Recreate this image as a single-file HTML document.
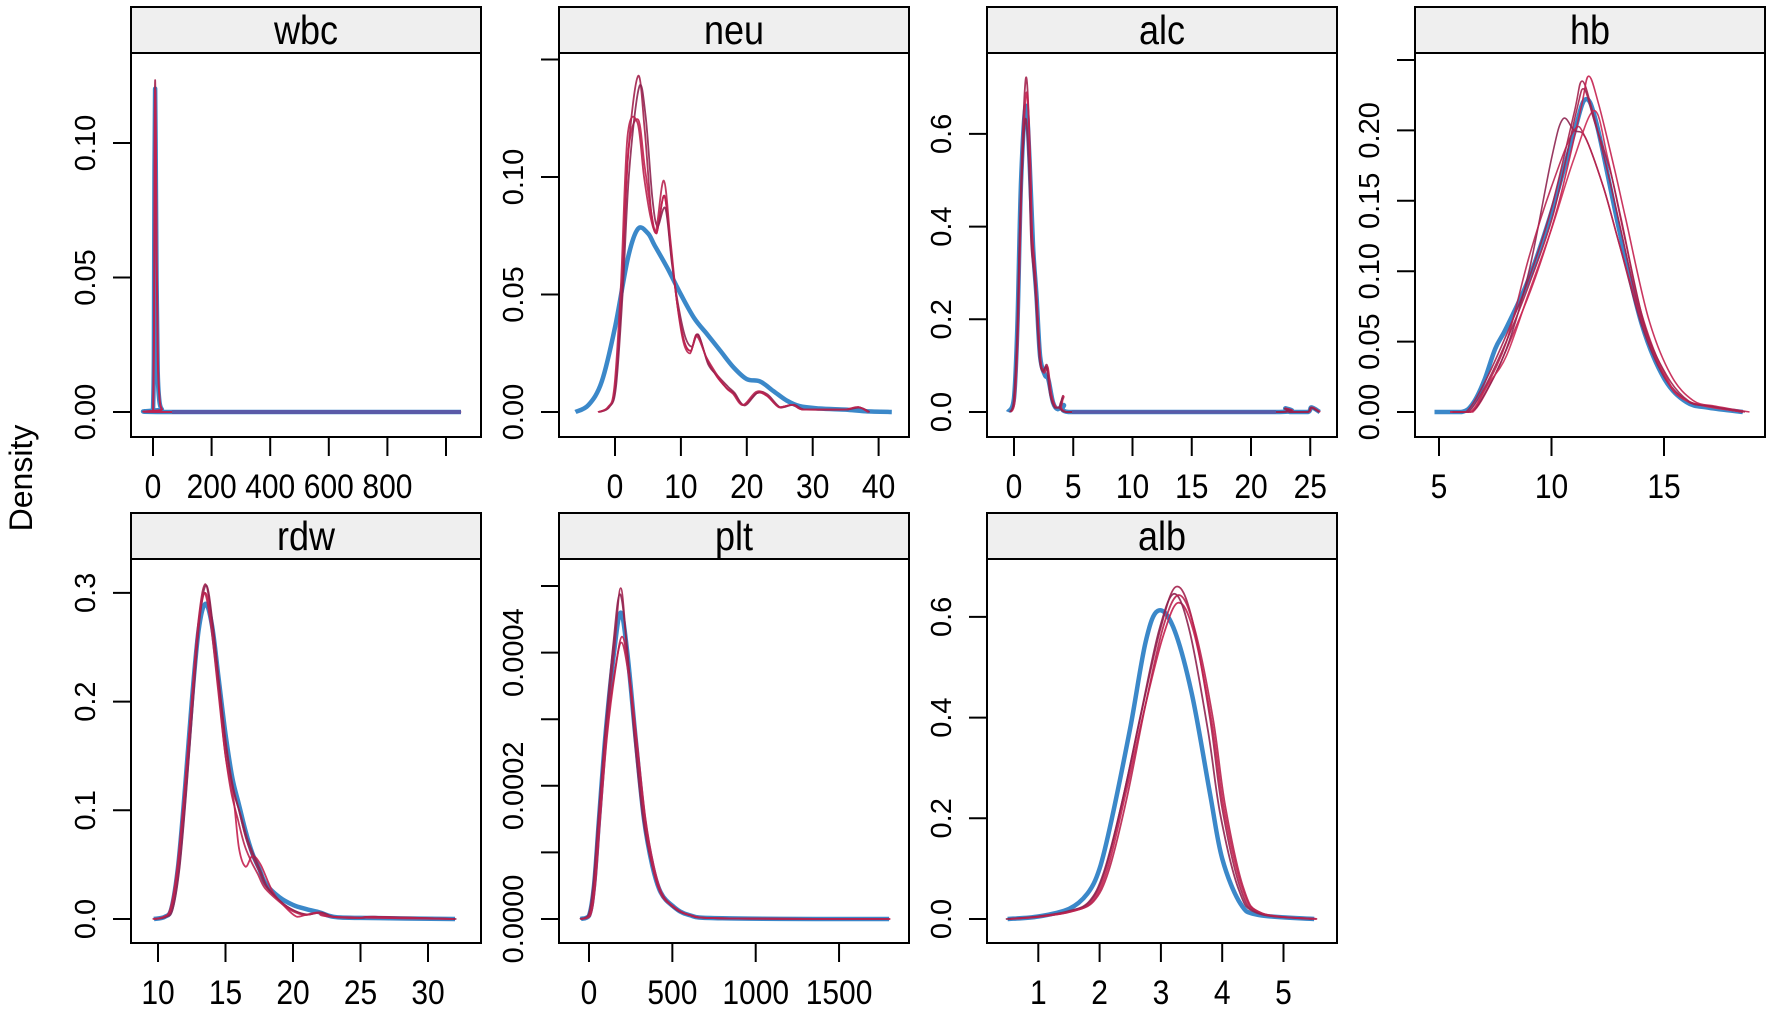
<!DOCTYPE html>
<html><head><meta charset="utf-8"><style>
html,body{margin:0;padding:0;background:#fff;}
svg{display:block;}
text{font-family:"Liberation Sans",Arial,sans-serif;fill:#000;}
</style></head><body>
<svg id="s" width="1772" height="1013" viewBox="0 0 1772 1013" xmlns="http://www.w3.org/2000/svg">
<rect width="1772" height="1013" fill="#fff"/>
<g id="g"></g>
<text transform="translate(32,478) rotate(-90)" text-anchor="middle" font-size="32">Density</text>
</svg>
<script>
const NS="http://www.w3.org/2000/svg";
const G=document.getElementById('g');
function el(t,a,txt){const e=document.createElementNS(NS,t);for(const k in a)e.setAttribute(k,a[k]);if(txt!==undefined)e.textContent=txt;G.appendChild(e);return e;}
function path(pts){
  let d="M"+pts[0][0].toFixed(1)+","+pts[0][1].toFixed(1);
  for(let i=0;i<pts.length-1;i++){
    const p0=pts[Math.max(0,i-1)],p1=pts[i],p2=pts[i+1],p3=pts[Math.min(pts.length-1,i+2)];
    const c1=[p1[0]+(p2[0]-p0[0])/6,p1[1]+(p2[1]-p0[1])/6];
    const c2=[p2[0]-(p3[0]-p1[0])/6,p2[1]-(p3[1]-p1[1])/6];
    d+="C"+c1[0].toFixed(1)+","+Math.min(c1[1],Math.max(p1[1],p2[1])).toFixed(1)+" "+c2[0].toFixed(1)+","+Math.min(c2[1],Math.max(p1[1],p2[1])).toFixed(1)+" "+p2[0].toFixed(1)+","+p2[1].toFixed(1);
  }
  return d;
}
function panel(o){
  const L=o.L,R=L+350,T=o.T,SB=T+46,B=T+430;
  const X=v=>o.x0+v*o.sx, Y=d=>o.y0-d*o.sy;
  const clip="c"+L+"_"+T;
  const cp=el('clipPath',{id:clip});
  const r=document.createElementNS(NS,'rect');r.setAttribute('x',L);r.setAttribute('y',SB);r.setAttribute('width',350);r.setAttribute('height',B-SB);cp.appendChild(r);
  el('path',{d:path(o.blue.map(p=>[X(p[0]),Y(p[1])])),fill:'none',stroke:'#3b88c9','stroke-width':4.5,'stroke-linejoin':'round','clip-path':'url(#'+clip+')'});
  const cols=['#a3214d','#c4204f','#8e2350','#b8234f','#cc2a55'];
  o.reds.forEach((rp,i)=>{
    el('path',{d:path(rp.map(p=>[X(p[0]),Y(p[1])])),fill:'none',stroke:cols[i%cols.length],'stroke-width':o.rw||1.8,'stroke-linejoin':'round','stroke-opacity':0.9,'clip-path':'url(#'+clip+')'});
  });
  el('rect',{x:L,y:T,width:350,height:46,fill:'#efefef',stroke:'#000','stroke-width':2});
  el('rect',{x:L,y:SB,width:350,height:B-SB,fill:'none',stroke:'#000','stroke-width':2});
  el('text',{transform:`translate(${L+175},${T+37}) scale(1,1.12)`,'text-anchor':'middle','font-size':36},o.name);
  o.yt.forEach(t=>{const y=Y(t[0]);el('line',{x1:L-18,y1:y,x2:L,y2:y,stroke:'#000','stroke-width':2});
    if(t[1])el('text',{transform:`translate(${L-36},${y}) rotate(-90)`,'text-anchor':'middle','font-size':29},t[1]);});
  o.xt.forEach(t=>{const x=X(t[0]);el('line',{x1:x,y1:B,x2:x,y2:B+19,stroke:'#000','stroke-width':2});
    if(t[1])el('text',{transform:`translate(${x},${B+61}) scale(1,1.15)`,'text-anchor':'middle','font-size':30},t[1]);});
}
function vary(base,dx,sc,amp,ph,k){return base.map(p=>[p[0]+dx,Math.max(0,p[1]*sc*(1+amp*Math.sin(p[0]*k+ph)))]);}

const wb=[[0,0],[3,0.02],[5,0.09],[7,0.12],[9,0.1],[12,0.05],[16,0.015],[22,0.004],[30,0.001],[45,0],[1051,0]];
const wr=[[0,0],[3,0.03],[5,0.1],[7,0.123],[9,0.11],[12,0.06],[16,0.02],[22,0.005],[30,0.001],[45,0],[1051,0]];
panel({name:'wbc',L:131,T:7,x0:153,sx:0.293,y0:412,sy:2690,blue:wb,reds:[wr,vary(wr,1,0.97,0.03,1,0.3)],
 yt:[[0,'0.00'],[0.05,'0.05'],[0.10,'0.10']],
 xt:[[0,'0'],[200,'200'],[400,'400'],[600,'600'],[800,'800'],[1000,'']]});
// purple flat overlay for wbc
el('line',{x1:172,y1:412,x2:461,y2:412,stroke:'#5a5aa8','stroke-width':4});

const nb=[[-6,0],[-4,0.003],[-2,0.013],[0,0.036],[2,0.066],[3.5,0.078],[5,0.076],[6,0.071],[8,0.061],[10,0.05],[12,0.04],[14,0.033],[16,0.026],[18,0.019],[20,0.014],[22,0.013],[24,0.009],[26,0.005],[28,0.0025],[31,0.0015],[35,0.001],[38,0.0003],[42,0]];
const nr=[[-2.5,0],[-1,0.002],[0,0.01],[1,0.05],[2,0.11],[3.5,0.143],[4.5,0.12],[5.5,0.085],[6.3,0.076],[7.5,0.092],[8.5,0.068],[9.5,0.045],[10.5,0.03],[11.5,0.026],[12.5,0.033],[14,0.022],[15.5,0.015],[17,0.01],[18,0.008],[19.5,0.003],[21.5,0.008],[23,0.007],[25,0.002],[27,0.003],[28.5,0.001],[32,0.001],[35,0.001],[37,0.002],[38.5,0]];
const nr2=nr.map(p=>[p[0],p[0]>2.6&&p[0]<4.6?p[1]*0.87:p[1]]);
panel({name:'neu',L:559,T:7,x0:615,sx:6.59,y0:412,sy:2350,blue:nb,
 reds:[nr,nr2,vary(nr,0.15,1,0.08,2,1.1),vary(nr2,-0.1,1.02,0.06,0.5,0.9)],
 yt:[[0,'0.00'],[0.05,'0.05'],[0.10,'0.10'],[0.15,'']],
 xt:[[0,'0'],[10,'10'],[20,'20'],[30,'30'],[40,'40']]});

const ab=[[-0.5,0],[0,0.03],[0.3,0.2],[0.6,0.5],[1,0.66],[1.3,0.55],[1.6,0.36],[1.9,0.25],[2.2,0.12],[2.6,0.08],[2.9,0.07],[3.3,0.02],[3.7,0.006],[4.2,0.015],[4.6,0],[10,0],[22.4,0],[22.9,0.008],[23.3,0],[24.8,0],[25.1,0.01],[25.8,0]];
const ar=[[-0.3,0],[0,0.02],[0.3,0.18],[0.6,0.5],[1,0.72],[1.3,0.6],[1.5,0.4],[1.8,0.3],[2.2,0.12],[2.5,0.09],[2.8,0.1],[3.1,0.04],[3.5,0.01],[3.9,0.01],[4.15,0.035],[4.4,0],[10,0],[22.4,0],[22.9,0.008],[23.3,0],[24.8,0],[25.1,0.01],[25.8,0]];
panel({name:'alc',L:987,T:7,x0:1014,sx:11.85,y0:412,sy:463.5,blue:ab,
 reds:[ar,vary(ar,0.05,0.95,0.05,1,2),vary(ar,-0.05,0.92,0.05,3,2)],
 yt:[[0,'0.0'],[0.2,'0.2'],[0.4,'0.4'],[0.6,'0.6']],
 xt:[[0,'0'],[5,'5'],[10,'10'],[15,'15'],[20,'20'],[25,'25']]});
el('line',{x1:1072,y1:412,x2:1276,y2:412,stroke:'#5a5aa8','stroke-width':3.5});

const hbb=[[4.8,0],[6,0],[6.5,0.006],[7,0.022],[7.5,0.045],[8,0.06],[9,0.095],[10,0.142],[11,0.198],[11.5,0.222],[12,0.205],[13,0.13],[14,0.063],[15,0.024],[16,0.007],[17,0.003],[18.5,0]];
const hr1=[[5.5,0],[6.2,0],[7,0.02],[8,0.055],[9,0.095],[10,0.145],[11,0.212],[11.35,0.235],[11.8,0.215],[12.5,0.17],[13,0.135],[14,0.066],[15,0.026],[16,0.008],[17,0.004],[18.5,0]];
const hr2=hr1.map(p=>[p[0]+0.3,p[1]*1.015]);
const hr3=[[5.5,0],[6.4,0],[7,0.012],[8,0.045],[9,0.1],[10,0.18],[10.5,0.208],[11,0.2],[11.5,0.195],[12.3,0.16],[13,0.12],[14,0.062],[15,0.025],[16,0.008],[17,0.004],[18.5,0]];
const hr4=[[5.5,0],[6.4,0],[7,0.015],[8,0.05],[9,0.11],[10,0.16],[11,0.2],[11.5,0.195],[12.3,0.16],[13,0.12],[14,0.065],[15,0.026],[16,0.008],[18.5,0]];
const hr5=[[5.5,0],[6.4,0],[7.2,0.02],[8,0.04],[9,0.085],[10,0.13],[11,0.18],[11.9,0.214],[12.5,0.18],[13.3,0.12],[14,0.07],[15,0.028],[16,0.008],[18.5,0]];
panel({name:'hb',L:1415,T:7,x0:1326.5,sx:22.5,y0:412,sy:1408,blue:hbb,reds:[hr1,hr2,hr3,hr4,hr5,vary(hr1,0.1,0.99,0.03,1,3)],rw:1.6,
 yt:[[0,'0.00'],[0.05,'0.05'],[0.10,'0.10'],[0.15,'0.15'],[0.20,'0.20'],[0.25,'']],
 xt:[[5,'5'],[10,'10'],[15,'15']]});

const rb=[[9.7,0],[10.5,0.002],[11,0.01],[11.5,0.05],[12,0.12],[12.5,0.2],[13,0.265],[13.5,0.29],[14,0.27],[14.5,0.22],[15,0.17],[15.5,0.13],[16,0.105],[16.5,0.08],[17,0.06],[17.5,0.046],[18,0.032],[19,0.02],[20,0.013],[21,0.009],[22,0.006],[23,0.002],[25,0.001],[32,0]];
const rr=[[9.7,0],[10.5,0.002],[11,0.01],[11.5,0.05],[12,0.12],[12.5,0.2],[13,0.275],[13.5,0.308],[14,0.275],[14.5,0.22],[15,0.165],[15.5,0.125],[16,0.1],[16.5,0.075],[17,0.058],[17.5,0.044],[18,0.03],[19,0.017],[20,0.008],[21,0.004],[22,0.006],[23,0.002],[25,0.001],[26,0.002],[32,0]];
const rr2=[[9.7,0],[10.5,0.002],[11,0.01],[11.5,0.05],[12,0.12],[12.5,0.2],[13,0.27],[13.5,0.3],[14,0.27],[14.5,0.21],[15,0.15],[15.6,0.11],[16,0.065],[16.5,0.048],[17,0.058],[17.6,0.05],[18.5,0.025],[19.5,0.01],[20.3,0.002],[21,0.004],[22,0.006],[23,0.002],[32,0]];
panel({name:'rdw',L:131,T:513,x0:23,sx:13.5,y0:919,sy:1087,blue:rb,reds:[rr,rr2,vary(rr,0.1,0.97,0.04,1,1.5),vary(rr,-0.1,0.95,0.04,2,1.3)],
 yt:[[0,'0.0'],[0.1,'0.1'],[0.2,'0.2'],[0.3,'0.3']],
 xt:[[10,'10'],[15,'15'],[20,'20'],[25,'25'],[30,'30']]});

const pb=[[-50,0],[0,0.000005],[30,0.00005],[60,0.00015],[100,0.00028],[150,0.0004],[190,0.00046],[230,0.0004],[280,0.00027],[330,0.00015],[380,0.00008],[430,0.00004],[500,0.00002],[600,0.000006],[800,0.000001],[1800,0]];
const pr=pb.map(p=>[p[0],p[1]*(p[0]>170&&p[0]<210?1.08:1)]);
panel({name:'plt',L:559,T:513,x0:589,sx:0.1667,y0:919,sy:666000,blue:pb,
 reds:[pr,vary(pb,8,0.97,0.05,1,0.02),vary(pb,-5,1.02,0.04,2,0.03),vary(pb,4,0.96,0.06,0,0.025)],
 yt:[[0,'0.0000'],[0.0001,''],[0.0002,'0.0002'],[0.0003,''],[0.0004,'0.0004'],[0.0005,'']],
 xt:[[0,'0'],[500,'500'],[1000,'1000'],[1500,'1500']]});

const lb=[[0.5,0],[1,0.005],[1.5,0.02],[1.8,0.05],[2,0.1],[2.2,0.2],[2.5,0.38],[2.75,0.55],[2.95,0.612],[3.2,0.58],[3.5,0.45],[3.8,0.25],[4,0.12],[4.3,0.03],[4.6,0.008],[5.5,0]];
const lr=[[0.5,0],[1,0.005],[1.5,0.015],[1.85,0.035],[2.1,0.1],[2.4,0.25],[2.7,0.42],[3,0.58],[3.25,0.66],[3.5,0.6],[3.8,0.4],[4,0.22],[4.3,0.06],[4.6,0.012],[5.5,0]];
panel({name:'alb',L:987,T:513,x0:977,sx:61.3,y0:919,sy:503.5,blue:lb,
 reds:[lr,vary(lr,0.03,0.98,0.03,1,3),vary(lr,-0.03,0.96,0.03,2,4),vary(lr,0.05,0.99,0.03,0,5)],
 yt:[[0,'0.0'],[0.2,'0.2'],[0.4,'0.4'],[0.6,'0.6']],
 xt:[[1,'1'],[2,'2'],[3,'3'],[4,'4'],[5,'5']]});
</script>
</body></html>
